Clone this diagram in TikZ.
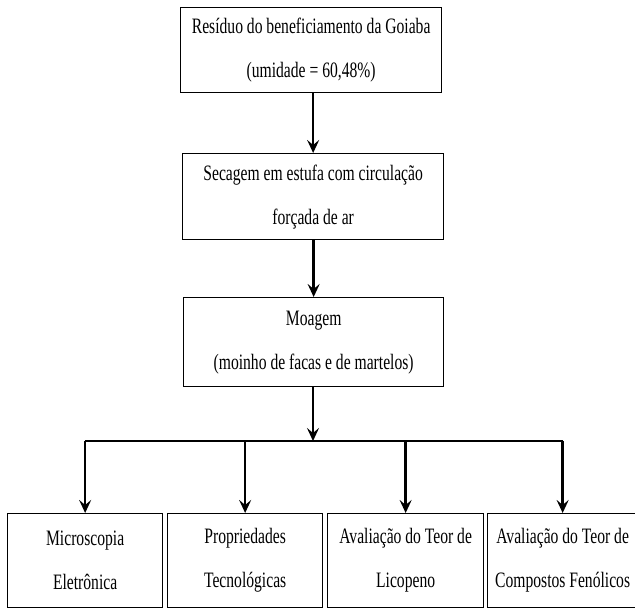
\documentclass[tikz,border=0pt]{standalone}
\usepackage{fontspec}
\setmainfont[FakeStretch=0.71]{Liberation Serif}
\usetikzlibrary{arrows.meta}
\tikzset{
  box/.style={draw, line width=1.3pt, anchor=north west, inner sep=0pt,
    align=center, font=\fontsize{22}{44}\selectfont},
  arr/.style={line width=2.5pt, -{Stealth[length=13pt, width=12pt, inset=5pt]}},
  bar/.style={line width=2.5pt}
}
\begin{document}
\begin{tikzpicture}[x=1pt, y=-1pt]
\useasboundingbox (0,0) rectangle (635,609);
% process chain
\node[box, minimum width=261pt, minimum height=85pt] (res) at (180,7)
  {Resíduo do beneficiamento da Goiaba\\(umidade = 60,48\%)};
\node[box, minimum width=261pt, minimum height=86pt] (sec) at (182,153)
  {Secagem em estufa com circulação\\forçada de ar};
\node[box, minimum width=260pt, minimum height=89pt] (moa) at (183,297)
  {Moagem\\(moinho de facas e de martelos)};
% analyses
\node[box, minimum width=155pt, minimum height=94pt] (mic) at (7,513)
  {Microscopia\\Eletrônica};
\node[box, minimum width=155pt, minimum height=94pt] (pro) at (167,513)
  {Propriedades\\Tecnológicas};
\node[box, minimum width=156pt, minimum height=94pt] (lic) at (327,513)
  {Avaliação do Teor de\\Licopeno};
\node[box, minimum width=150pt, minimum height=94pt] (fen) at (487,513)
  {Avaliação do Teor de\\Compostos Fenólicos};
% connectors
\draw[arr] (sec.north |- res.south) -- (sec.north);
\draw[arr] (moa.north |- sec.south) -- (moa.north);
\coordinate (split) at (313,441);
\draw[arr] (moa.south -| split) -- (split);
\draw[bar] (mic.north |- split) -- (fen.north |- split);
\foreach \n in {mic,pro,lic,fen}
  \draw[arr] (\n.north |- split) -- (\n.north);
\end{tikzpicture}
\end{document}
